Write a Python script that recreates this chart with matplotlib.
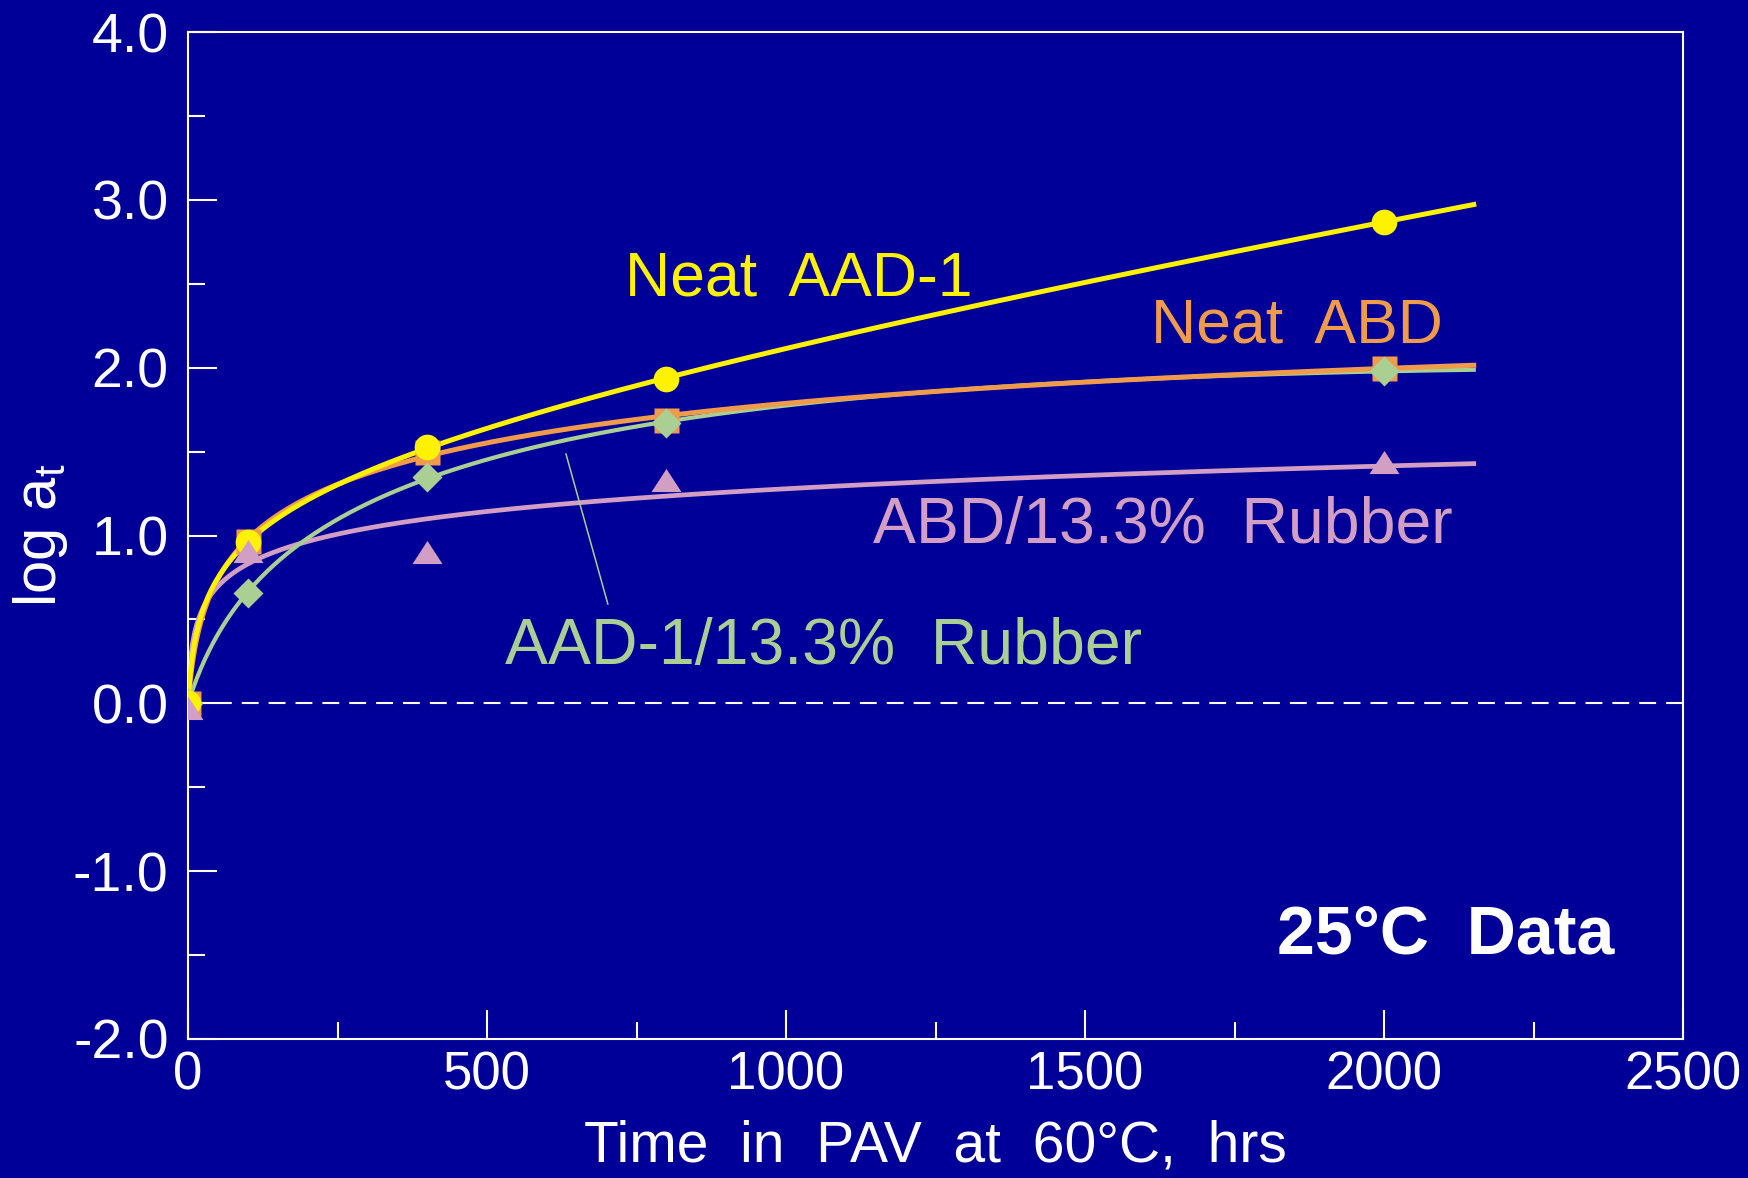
import numpy as np
import matplotlib
matplotlib.use("Agg")
import matplotlib.pyplot as plt
from matplotlib.ticker import MultipleLocator, FormatStrFormatter

plt.rcParams['font.family'] = ['Liberation Sans', 'DejaVu Sans']
plt.rcParams['mathtext.fontset'] = 'custom'
plt.rcParams['mathtext.rm'] = 'Liberation Sans'
plt.rcParams['mathtext.it'] = 'Liberation Sans'
plt.rcParams['axes.unicode_minus'] = False

# PAV aging time (hrs) and shift factors log a_t at 25 °C
hours = [0, 100, 400, 800, 2000]
neat_aad1 = [0.00, 0.96, 1.53, 1.93, 2.87]
neat_abd = [0.00, 0.97, 1.50, 1.69, 2.00]
aad1_rubber = [0.00, 0.66, 1.35, 1.67, 1.98]
abd_rubber = [-0.03, 0.91, 0.90, 1.33, 1.44]

series_names = ["Neat  AAD-1", "Neat  ABD", "ABD/13.3%  Rubber", "AAD-1/13.3%  Rubber"]
x_ticks = [0, 500, 1000, 1500, 2000, 2500]
y_ticks = [-2.0, -1.0, 0.0, 1.0, 2.0, 3.0, 4.0]

BG = '#000099'
YELLOW = '#FFF200'
ORANGE = '#F09B4B'
GREEN = '#AACF93'
PINK = '#D29EC4'
FIT_END = 2150


def trend(x, y, x_eval, linear=True):
    """Least-squares trend y = a*ln(1 + x/c) [+ d*x], c found by scan."""
    x = np.asarray(x, float)
    y = np.asarray(y, float)
    best = None
    for c in np.logspace(-1, 3.5, 500):
        cols = [np.log1p(x / c)] + ([x] if linear else [])
        A = np.column_stack(cols)
        coef = np.linalg.lstsq(A, y, rcond=None)[0]
        err = np.sum((A @ coef - y) ** 2)
        if best is None or err < best[0]:
            best = (err, c, coef)
    _, c, coef = best
    out = coef[0] * np.log1p(x_eval / c)
    if linear:
        out = out + coef[1] * x_eval
    return out


fig = plt.figure(figsize=(17.49, 11.78), dpi=100, facecolor=BG)
ax = fig.add_axes([0.1075, 0.1180, 0.8548, 0.8548])
ax.set_facecolor(BG)

xs = np.linspace(0, FIT_END, 600)
ax.axhline(0, color='white', lw=1.5, linestyle=(0, (8.1, 4.8)), zorder=1)

ax.plot(xs, trend(hours, abd_rubber, xs, linear=False), color=PINK, lw=3.4, zorder=2)
ax.plot(xs, trend(hours, aad1_rubber, xs), color=GREEN, lw=3.0, zorder=3)
ax.plot(xs, trend(hours, neat_abd, xs), color=ORANGE, lw=3.6, zorder=4)
ax.plot(xs, trend(hours, neat_aad1, xs), color=YELLOW, lw=3.6, zorder=5)

tri = [(-1, -0.77), (1, -0.77), (0, 0.77)]
ax.plot(hours, neat_abd, 's', color=ORANGE, ms=18, mec='none', zorder=6)
ax.plot(hours, aad1_rubber, 'D', color=GREEN, ms=15.3, mec='none', zorder=7)
ax.plot(hours, neat_aad1, 'o', color=YELLOW, ms=18.5, mec='none', zorder=8)
ax.plot(hours, abd_rubber, marker=tri, ls='none', color=PINK, ms=21.6, mec='none', zorder=9)

ax.set_xlim(0, 2500)
ax.set_ylim(-2.0, 4.0)
ax.set_xticks(x_ticks)
ax.set_yticks(y_ticks)
ax.xaxis.set_minor_locator(MultipleLocator(250))
ax.yaxis.set_minor_locator(MultipleLocator(0.5))
ax.yaxis.set_major_formatter(FormatStrFormatter('%.1f'))
ax.tick_params(which='both', direction='in', color='white', width=1.5,
               top=False, right=False)
ax.tick_params(which='major', length=21)
ax.tick_params(which='minor', length=12.5)
ax.tick_params(axis='x', which='major', labelsize=38, labelcolor='white', pad=8)
ax.tick_params(axis='y', which='major', labelsize=40, labelcolor='white', pad=14)
for sp in ax.spines.values():
    sp.set_color('white')
    sp.set_linewidth(1.5)

xl = ax.set_xlabel('Time  in  PAV  at  60°C,  hrs', fontsize=41, color='white')
ax.xaxis.set_label_coords(0.5, -0.1221)
xl.set_va('baseline')
yl = ax.set_ylabel(r'$\mathrm{log\ a_t}$', fontsize=43, color='white')
ax.yaxis.set_label_coords(-0.099, 0.500)
yl.set_va('center')

# curve labels
ax.text(731, 2.433, series_names[0], color=YELLOW, fontsize=45, ha='left', va='baseline')
ax.text(1610, 2.153, series_names[1], color=ORANGE, fontsize=45, ha='left', va='baseline')
ax.text(1146, 0.955, series_names[2], color=PINK, fontsize=46.4, ha='left', va='baseline')
ax.text(530, 0.234, series_names[3], color=GREEN, fontsize=46.4, ha='left', va='baseline')
ax.plot([632, 702], [1.486, 0.592], color=GREEN, lw=1.1, zorder=2)

ax.text(1821, -1.488, '25°C  Data', color='white', fontsize=49, fontweight='bold',
        ha='left', va='baseline')

fig.savefig('out.png', dpi=100, facecolor=BG)
